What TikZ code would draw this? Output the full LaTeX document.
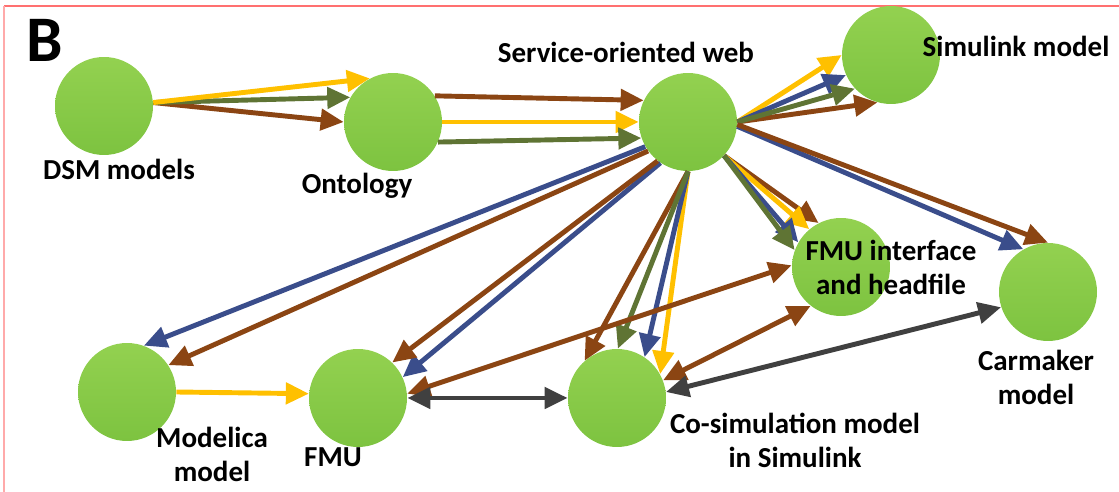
\documentclass[tikz,border=0pt]{standalone}
\usepackage{fontspec}
\setmainfont{Carlito}
\usetikzlibrary{arrows.meta}

\definecolor{topgreen}{HTML}{93D150}
\definecolor{botgreen}{HTML}{7DC340}
\definecolor{arryellow}{HTML}{FFC000}
\definecolor{arrolive}{HTML}{5F7434}
\definecolor{arrbrown}{HTML}{8B4513}
\definecolor{arrblue}{HTML}{3A4D8B}
\definecolor{arrgray}{HTML}{404040}
\definecolor{framered}{HTML}{FF7070}
\definecolor{framepink}{HTML}{FFAAAA}

\tikzset{
  model/.style={circle, minimum size=1.96cm, inner sep=0pt, top color=topgreen, bottom color=botgreen},
  lbl/.style={font=\bfseries\fontsize{16.5}{19.8}\selectfont, align=center, anchor=base, inner sep=0pt},
  link/.style={line width=2.8pt, -{Triangle[length=0.46cm, width=0.42cm]}},
  twoway/.style={line width=2.8pt, {Triangle[length=0.46cm, width=0.42cm]}-{Triangle[length=0.46cm, width=0.42cm]}},
}

\begin{document}
\begin{tikzpicture}[x=0.02cm, y=-0.02cm]
        \useasboundingbox (0,0) rectangle (1119,492);
        % Frame
        \draw[line width=1pt, framered] (4,6) -- (1119,6);
        \draw[line width=1.2pt, framepink] (4,6) -- (4,492);

        % Models
        \node[model] (dsm) at (104,106) {};
        \node[model] (onto) at (393,122) {};
        \node[model] (web) at (688,122) {};
        \node[model] (sim) at (891,55) {};
        \node[model] (mod) at (127,392) {};
        \node[model] (fmu) at (358,398) {};
        \node[model] (cosim) at (617,398) {};
        \node[model] (fmui) at (841,267) {};
        \node[model] (cm) at (1048,292) {};

        % DSM models to ontology
        \foreach \c/\a in {arrbrown/180, arrolive/150, arryellow/118} {
          \draw[link, \c] (dsm.4) -- (onto.\a);
        }
        % Ontology to web
        \draw[link, arrbrown] (onto.32) -- (web.154);
        \draw[link, arryellow] (onto.0) -- (web.180);
        \draw[link, arrolive] (onto.-24) -- (web.-161);

        % Web to Simulink and Carmaker
        \foreach \c/\a in {arrbrown/-106, arryellow/180, arrblue/-156, arrolive/-137} {
          \draw[link, \c] (web.0) -- (sim.\a);
        }
        \draw[link, arrblue] (web.-5) -- (cm.120);
        \draw[link, arrbrown] (web.-3) -- (cm.90);

        % Web to FMU interface
        \foreach \c/\a in {arrbrown/117, arryellow/130, arrblue/150, arrolive/160} {
          \draw[link, \c] (web.-43) -- (fmui.\a);
        }
        % Web to co-simulation
        \foreach \c/\a in {arryellow/29, arrblue/56, arrbrown/131, arrolive/89} {
          \draw[link, \c] (web.-90) -- (cosim.\a);
        }
        % Web to FMU and Modelica
        \draw[link, arrblue] (web.-124) -- (fmu.25);
        \draw[link, arrbrown] (web.-128) -- (fmu.46);
        \draw[link, arrblue] (web.-150) -- (mod.70);
        \draw[link, arrbrown] (web.-144) -- (mod.33);

        % Modelica to FMU
        \draw[link, arryellow] (mod.0) -- (fmu.175);

        % Two-way links
        \draw[twoway, arrbrown] (fmu.5) -- (fmui.178);
        \draw[twoway, arrbrown] (cosim.21) -- (fmui.-128);
        \draw[twoway, arrgray] (fmu.0) -- (cosim.180);
        \draw[twoway, arrgray] (cosim.7) -- (cm.-162);

        % Labels
        \node[lbl] (blbl) at (45,62) {\fontsize{37}{40}\selectfont B};
        \node[lbl] (dsmlbl) at (119,180) {DSM models};
        \node[lbl] (ontolbl) at (357,194) {Ontology};
        \node[lbl] (weblbl) at (626,63) {Service-oriented web};
        \node[lbl] (simlbl) at (1016,57) {Simulink model};
        \node[lbl] (modlbl) at (212,482) {Modelica\\model};
        \node[lbl] (fmulbl) at (333,467) {FMU};
        \node[lbl] (fmuilbl) at (891,295) {FMU interface\\and headfile};
        \node[lbl] (cmlbl) at (1036,405) {Carmaker\\model};
        \node[lbl] (cosimlbl) at (795,468) {Co-simulation model\\in Simulink};
    \end{tikzpicture}
\end{document}
